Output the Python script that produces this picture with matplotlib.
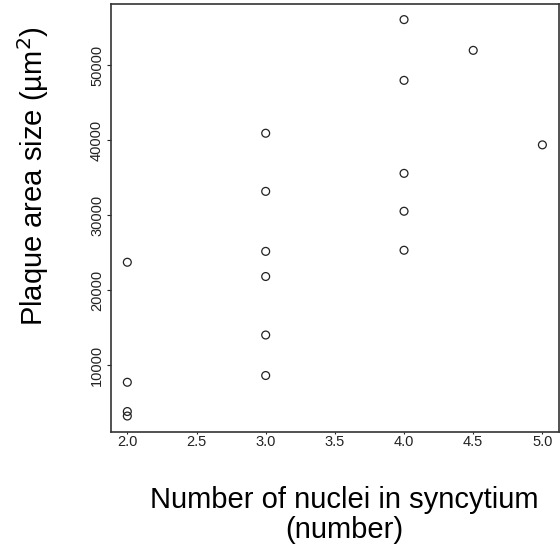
import matplotlib.pyplot as plt

plt.rcParams['font.family'] = ['Liberation Sans', 'DejaVu Sans']

# nuclei count per syncytium and plaque area (um^2)
nuclei = [2, 2, 2, 2,
          3, 3, 3, 3, 3, 3,
          4, 4, 4, 4, 4,
          4.5, 5]
area = [23700, 7700, 3800, 3200,
        40900, 33150, 25150, 21800, 14000, 8600,
        56050, 47950, 35550, 30500, 25300,
        51950, 39350]

x_ticks = [2.0, 2.5, 3.0, 3.5, 4.0, 4.5, 5.0]
y_ticks = [10000, 20000, 30000, 40000, 50000]

fig = plt.figure(figsize=(5.6, 5.53), dpi=100)
W, H = 560, 553
ax = fig.add_axes([111 / W, 1 - 432 / H, (559 - 111) / W, (432 - 4) / H])

ax.scatter(nuclei, area, s=32, facecolors='none', edgecolors='#222222', linewidths=0.9)

ax.set_xlim(1.882, 5.12)
ax.set_ylim(1070, 58130)
ax.set_xticks(x_ticks)
ax.set_xticklabels([f"{t:.1f}" for t in x_ticks])
ax.set_yticks(y_ticks)
ax.set_yticklabels([str(t) for t in y_ticks], rotation=90, va='center')

ax.tick_params(axis='x', length=1.5, width=0.8, pad=1, labelsize=10.5, colors='#222222')
ax.tick_params(axis='y', length=3, width=0.8, pad=2, labelsize=10.5, colors='#222222')
for sp in ax.spines.values():
    sp.set_linewidth(1.2)
    sp.set_color('#333333')

fig.text(33 / W, 1 - 176 / H, 'Plaque area size (µm$^2$)', rotation=90,
         ha='center', va='center', fontsize=21)
fig.text(344 / W, 1 - 515 / H, 'Number of nuclei in syncytium\n(number)',
         ha='center', va='center', fontsize=21, linespacing=1.1)

fig.savefig('out.png', dpi=100)
